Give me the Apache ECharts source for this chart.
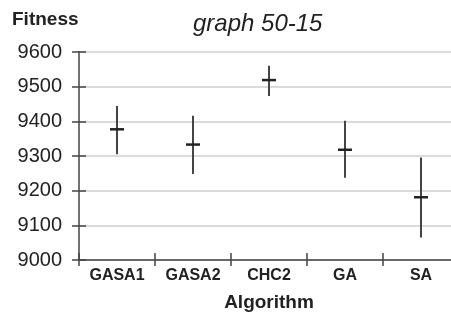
<!DOCTYPE html>
<html>
<head>
<meta charset="utf-8">
<script src="https://cdn.jsdelivr.net/npm/echarts@6/dist/echarts.min.js"></script>
<style>
  html, body { margin: 0; padding: 0; background: #fff; }
  #chart { width: 451px; height: 320px; }
</style>
</head>
<body>
<div id="chart"></div>
<script>
// 数据 ===================
var categories = ['GASA1', 'GASA2', 'CHC2', 'GA', 'SA'];
var meanValues = [9377, 9333, 9519, 9318, 9181];
var highValues = [9444, 9416, 9560, 9402, 9296];
var lowValues = [9305, 9248, 9473, 9237, 9065];
var yTicks = [9000, 9100, 9200, 9300, 9400, 9500, 9600];

(function () {
    var myChart = echarts.init(document.getElementById('chart'))
    var font = 'Liberation Sans, Arial, sans-serif'

    var barData = categories.map(function (c, i) {
        return [i, lowValues[i], highValues[i], meanValues[i]]
    })

    // 误差线 + 均值短横
    function renderItem(params, api) {
        var x = api.value(0)
        var top = api.coord([x, api.value(2)])
        var bot = api.coord([x, api.value(1)])
        var mid = api.coord([x, api.value(3)])
        return {
            type: 'group',
            children: [
                {
                    type: 'line',
                    shape: { x1: top[0], y1: top[1], x2: bot[0], y2: bot[1] },
                    style: { stroke: '#444', lineWidth: 2 }
                },
                {
                    type: 'line',
                    shape: { x1: mid[0] - 7, y1: mid[1], x2: mid[0] + 7, y2: mid[1] },
                    style: { stroke: '#222', lineWidth: 2.5 }
                }
            ]
        }
    }

    var yMin = yTicks[0]
    var yMax = yTicks[yTicks.length - 1]
    var yStep = yTicks[1] - yTicks[0]

    var option = {
        animation: false,
        title: [
            {
                text: 'Fitness',
                left: 12,
                top: 10,
                padding: 0,
                textStyle: { fontFamily: font, fontSize: 19, fontWeight: 'bold', color: '#222' }
            },
            {
                text: 'graph 50-15',
                left: 193,
                top: 12,
                padding: 0,
                textStyle: { fontFamily: font, fontSize: 24, fontWeight: 'normal', fontStyle: 'italic', color: '#222' }
            }
        ],
        grid: {
            left: 79,
            width: 380,
            top: 52,
            bottom: 60,
            outerBoundsMode: 'none'
        },
        xAxis: [
            {
                type: 'category',
                data: categories,
                position: 'bottom',
                name: 'Algorithm',
                nameLocation: 'middle',
                nameGap: 33,
                nameTextStyle: { fontFamily: font, fontSize: 19, fontWeight: 'bold', color: '#222' },
                axisLine: { lineStyle: { color: '#444', width: 1.5 } },
                axisTick: { show: true, length: 6, lineStyle: { color: '#444', width: 1.5 } },
                axisLabel: { fontFamily: font, fontSize: 16, fontWeight: 'bold', color: '#222', margin: 8 },
                splitLine: { show: false }
            },
            {
                type: 'category',
                data: categories,
                position: 'bottom',
                axisLine: { show: false },
                axisTick: { show: true, inside: true, length: 7, lineStyle: { color: '#444', width: 1.5 } },
                axisLabel: { show: false },
                splitLine: { show: false }
            }
        ],
        yAxis: [
            {
                type: 'value',
                min: yMin,
                max: yMax,
                interval: yStep,
                position: 'left',
                axisLine: { show: true, lineStyle: { color: '#444', width: 1.5 } },
                axisTick: { show: true, length: 7, lineStyle: { color: '#444', width: 1.5 } },
                axisLabel: {
                    fontFamily: font, fontSize: 20, color: '#222', margin: 17,
                    formatter: function (v) { return String(v) }
                },
                splitLine: { show: true, lineStyle: { color: '#cfcfcf', width: 1.5 } }
            },
            {
                type: 'value',
                min: yMin,
                max: yMax,
                interval: yStep,
                position: 'left',
                axisLine: { show: false },
                axisTick: { show: true, inside: true, length: 7, lineStyle: { color: '#444', width: 1.5 } },
                axisLabel: { show: false },
                splitLine: { show: false }
            }
        ],
        series: [
            {
                type: 'custom',
                renderItem: renderItem,
                xAxisIndex: 0,
                yAxisIndex: 0,
                encode: { x: 0, y: [1, 2, 3] },
                data: barData
            }
        ]
    }

    myChart.setOption(option)
}());
</script>
</body>
</html>
